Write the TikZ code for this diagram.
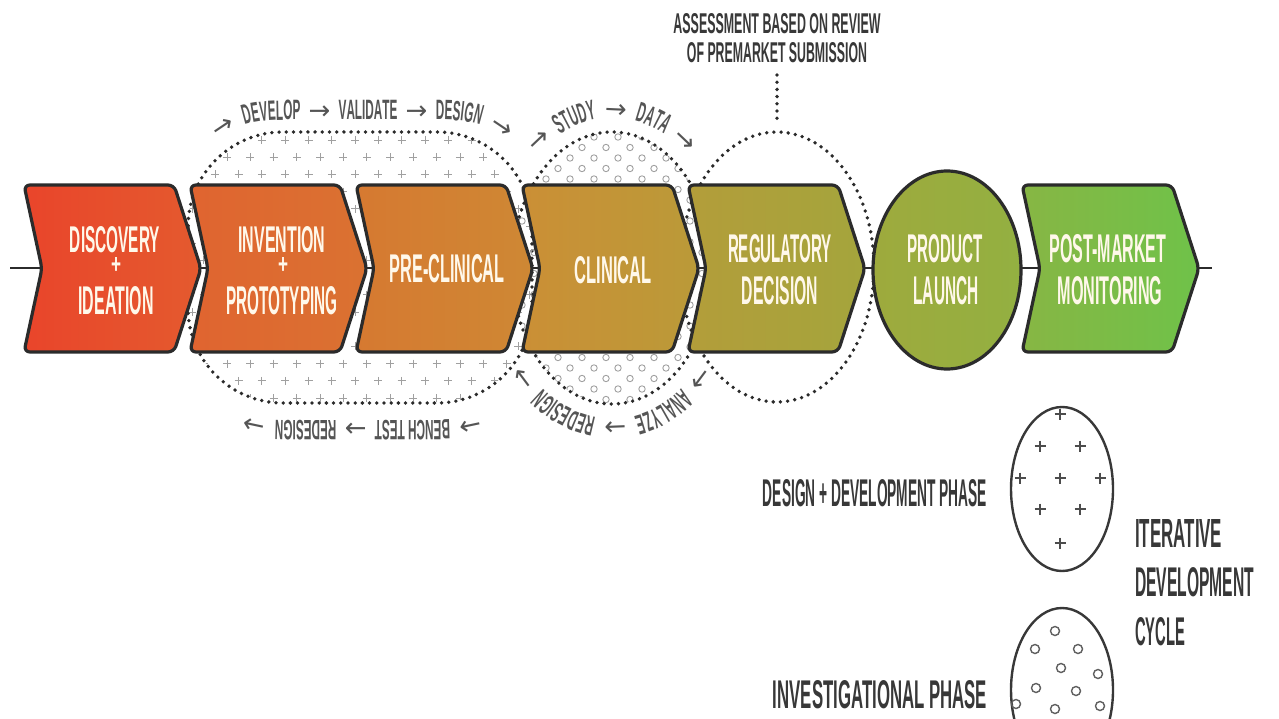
\documentclass[tikz,border=0pt]{standalone}
\usepackage{fontspec}
\usepackage{graphicx}
\usetikzlibrary{decorations.text,shapes.geometric}

% tall condensed lettering
\newfontfamily\cond[FakeStretch=0.42]{Liberation Sans}
\newfontfamily\arrowfnt{DejaVu Sans}

\definecolor{outline}{HTML}{2B2B2B}
\definecolor{dotc}{HTML}{2A2A2A}
\definecolor{lblgray}{HTML}{555555}
\definecolor{legendgray}{HTML}{383838}
\definecolor{cream}{HTML}{FFF8EA}
\definecolor{patgray}{HTML}{A0A0A0}
% stage colours, left to right
\definecolor{s0}{HTML}{E9452B}
\definecolor{s1}{HTML}{E45A2E}
\definecolor{s2}{HTML}{E06430}
\definecolor{s3}{HTML}{DA7231}
\definecolor{s4}{HTML}{D67931}
\definecolor{s5}{HTML}{CE8834}
\definecolor{s6}{HTML}{CB8F36}
\definecolor{s7}{HTML}{BA9A38}
\definecolor{s8}{HTML}{B39D3A}
\definecolor{s9}{HTML}{A4A53C}
\definecolor{s10}{HTML}{9EAA3D}
\definecolor{s11}{HTML}{93B041}
\definecolor{s12}{HTML}{87B644}
\definecolor{s13}{HTML}{6FC249}

% text squeezed into a given width and cap height
\newcommand{\fitw}[3]{\resizebox{#1pt}{#2pt}{\cond\bfseries #3}}
\newcommand{\arcfnt}{\cond\bfseries\fontsize{28}{28}\selectfont}
\newcommand{\arcarr}{\arrowfnt\fontsize{26}{26}\selectfont}

\begin{document}
\begin{tikzpicture}[x=1pt, y=-1pt,
  chev/.style={draw=outline, line width=3.2pt, rounded corners=6pt, line join=round},
  dotloop/.style={draw=dotc, line width=3.8pt, line cap=round, dash pattern=on 0pt off 7.2pt},
  axisline/.style={draw=outline, line width=2.8pt},
  plusmk/.style={draw=patgray, line width=0.9pt},
  ringmk/.style={draw=patgray, line width=0.9pt},
  stagetext/.style={text=cream, inner sep=0pt},
  legendtext/.style={text=legendgray, inner sep=0pt},
  legring/.style={draw=legendgray, line width=2.4pt, ellipse, minimum width=102pt, minimum height=164pt, inner sep=0pt},
  legplus/.style={draw=legendgray!90, line width=1.1pt},
  legdot/.style={draw=legendgray!80, line width=1.4pt},
  arctext/.style={decorate, decoration={text along path, text align=center, text color=lblgray, text={#1}}}
]
\useasboundingbox (0,0) rectangle (1279,719);
\fill[white] (0,0) rectangle (1279,719);
\clip (0,0) rectangle (1279,719);

% ---------- process axis ----------
\coordinate (lineL) at (10,268);
\coordinate (lineR) at (1212,268);
\draw[axisline] (lineL) -- (lineR);

% ---------- design + development loop (crosses) ----------
\begin{scope}
  \clip[rounded corners=95pt] (188,132) rectangle (532,403);
  \foreach \r in {0,...,16} {
    \pgfmathsetmacro\yy{140+17.2*\r}
    \pgfmathsetmacro\off{mod(\r,2)*11.65}
    \foreach \c in {0,...,15} {
      \pgfmathsetmacro\xx{192+\off+23.3*\c}
      \draw[plusmk] (\xx-4,\yy) -- (\xx+4,\yy) (\xx,\yy-4) -- (\xx,\yy+4);
    }
  }
\end{scope}
\draw[dotloop, rounded corners=95pt] (188,132) rectangle (532,403);

% ---------- investigational loop (rings) ----------
\begin{scope}
  \clip (612,268) ellipse [x radius=100, y radius=136];
  \foreach \r in {0,...,26} {
    \pgfmathsetmacro\yy{137+10.5*\r}
    \pgfmathsetmacro\off{mod(\r+1,2)*12}
    \foreach \c in {0,...,9} {
      \pgfmathsetmacro\xx{510+\off+24*\c}
      \draw[ringmk] (\xx,\yy) circle[radius=3.2pt];
    }
  }
\end{scope}
\draw[dotloop] (612,268) ellipse [x radius=100, y radius=136];

% ---------- regulatory review loop ----------
\draw[dotloop] (777,267) ellipse [x radius=97, y radius=135];
\coordinate (noteTop) at (777,75);
\coordinate (noteBot) at (777,122);
\draw[dotloop] (noteTop) -- (noteBot);
\node[legendtext] (assessA) at (777,24) {\fitw{207}{20}{ASSESSMENT BASED ON REVIEW}};
\node[legendtext] (assessB) at (777,53) {\fitw{180}{20}{OF PREMARKET SUBMISSION}};

% ---------- cycle labels ----------
\path[arctext={|\arcarr|→ |\arcfnt|DEVELOP|\arcarr| → |\arcfnt|VALIDATE|\arcarr| → |\arcfnt|DESIGN|\arcarr| →}]
  (208,152) .. controls (228,126) and (250,120) .. (285,120) -- (440,120) .. controls (475,120) and (497,126) .. (517,152);
\path[arctext={|\arcarr|→ |\arcfnt|BENCH TEST|\arcarr| → |\arcfnt|REDESIGN|\arcarr| →}]
  (517,385) .. controls (497,412) and (475,420) .. (440,420) -- (285,420) .. controls (250,420) and (228,412) .. (208,385);
\path[arctext={|\arcarr|→ |\arcfnt|STUDY|\arcarr| → |\arcfnt|DATA|\arcarr| →}]
  plot[smooth, domain=30:150, samples=25] ({612-115*cos(\x)},{268-150*sin(\x)});
\path[arctext={|\arcarr|→ |\arcfnt|ANALYZE|\arcarr| → |\arcfnt|REDESIGN|\arcarr| →}]
  plot[smooth, domain=30:150, samples=25] ({612+115*cos(\x)},{268+151*sin(\x)});

% ---------- stages ----------
\foreach \xl/\ca/\cb in {24/s0/s1, 190/s2/s3, 356/s4/s5, 522/s6/s7, 688/s8/s9, 1022/s12/s13}
  \draw[chev, left color=\ca, right color=\cb]
    (\xl,185) -- ++(150,0) -- ++(27,83.5) -- ++(-27,83.5) -- ++(-150,0) -- ++(18,-83.5) -- cycle;
\node[draw=outline, line width=3.2pt, ellipse, minimum width=148pt, minimum height=198pt,
      left color=s10, right color=s11, inner sep=0pt] (launch) at (947,270) {};

\node[stagetext] (disc1) at (115,240) {\fitw{90}{26}{DISCOVERY}};
\node[stagetext] (disc2) at (116,265) {\fitw{10}{16}{+}};
\node[stagetext] (disc3) at (116,301) {\fitw{75}{28}{IDEATION}};
\node[stagetext] (invt1) at (282,240) {\fitw{87}{26}{INVENTION}};
\node[stagetext] (invt2) at (283,265) {\fitw{10}{16}{+}};
\node[stagetext] (invt3) at (282,301) {\fitw{111}{28}{PROTOTYPING}};
\node[stagetext] (precl) at (447,269) {\fitw{115}{28}{PRE-CLINICAL}};
\node[stagetext] (clin) at (613,270) {\fitw{77}{27}{CLINICAL}};
\node[stagetext] (reg1) at (780,249) {\fitw{104}{28}{REGULATORY}};
\node[stagetext] (reg2) at (780,291) {\fitw{76}{28}{DECISION}};
\node[stagetext] (pl1) at (945,249) {\fitw{75}{28}{PRODUCT}};
\node[stagetext] (pl2) at (946,291) {\fitw{65}{28}{LAUNCH}};
\node[stagetext] (pm1) at (1108,249) {\fitw{117}{28}{POST-MARKET}};
\node[stagetext] (pm2) at (1110,291) {\fitw{105}{28}{MONITORING}};

% ---------- legend ----------
\node[legendtext] (legDD) at (875,493) {\fitw{224}{27}{DESIGN + DEVELOPMENT PHASE}};
\node[legendtext] (legInv) at (880,695) {\fitw{214}{28}{INVESTIGATIONAL PHASE}};
\node[legendtext, anchor=west] (it1) at (1135,533) {\fitw{87}{28}{ITERATIVE}};
\node[legendtext, anchor=west] (it2) at (1135,582) {\fitw{119}{29}{DEVELOPMENT}};
\node[legendtext, anchor=west] (it3) at (1135,632) {\fitw{50}{28}{CYCLE}};

\node[legring] (ringA) at (1062,489) {};
\node[legring] (ringB) at (1062,690) {};
\foreach \px/\py in {1060/414, 1040/446, 1080/446, 1020/478, 1060/478, 1100/478, 1040/509, 1080/509, 1060/543}
  \draw[legplus] (\px-5.5,\py) -- (\px+5.5,\py) (\px,\py-5.5) -- (\px,\py+5.5);
\foreach \px/\py in {1055/631, 1035/649, 1078/649, 1061/668, 1098/674, 1036/688, 1076/691, 1055/709, 1100/706, 1016/704}
  \draw[legdot] (\px,\py) circle[radius=4.5pt];
\end{tikzpicture}
\end{document}
